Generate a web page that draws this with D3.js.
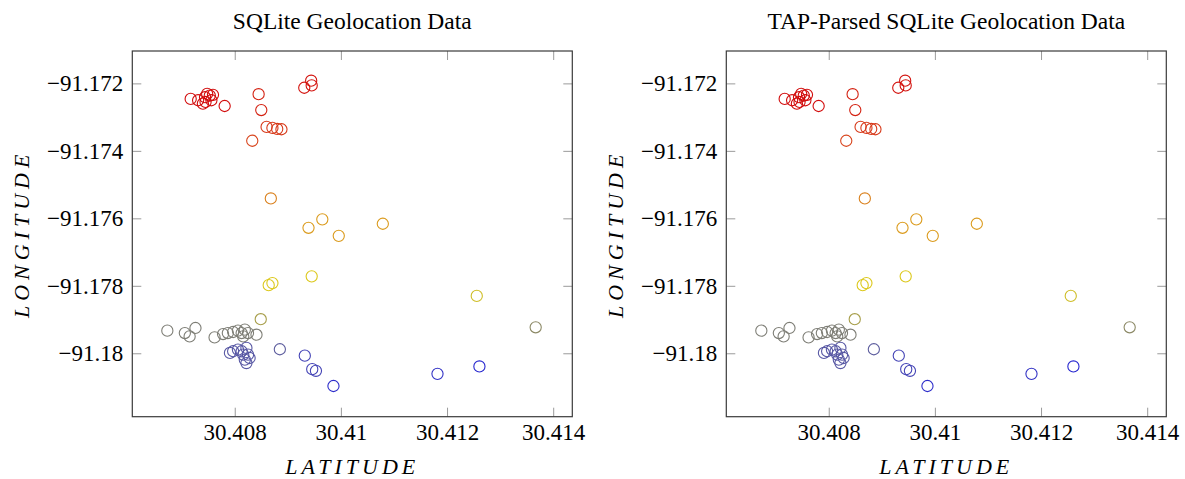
<!DOCTYPE html>
<html>
<head>
<meta charset="utf-8">
<title>SQLite Geolocation Data</title>
<script src="https://d3js.org/d3.v7.min.js"></script>
<style>
  body { margin: 0; background: #fff; }
  text { font-family: "Liberation Serif", "Times New Roman", serif; fill: #000; }
</style>
</head>
<body>
<svg width="1185" height="479"></svg>
<script>
// latitude (x) of each recorded point
var latitude = [
  30.40717, 30.40731, 30.40740, 30.40744, 30.40748, 30.40753, 30.40759, 30.40745, 30.40756, 30.40781,
  30.40845, 30.40850, 30.40860, 30.40871, 30.40880, 30.40888, 30.40833, 30.40931, 30.40944, 30.40945,
  30.40868, 30.40939, 30.40965, 30.40996, 30.41079,
  30.40864, 30.40871, 30.40945, 30.41256,
  30.40849, 30.41367,
  30.40673, 30.40706, 30.40715, 30.40726, 30.40762, 30.40778, 30.40787, 30.40797, 30.40806,
  30.40813, 30.40819, 30.40816, 30.40825, 30.40841,
  30.40791, 30.40797, 30.40806, 30.40813, 30.40822, 30.40816, 30.40825, 30.40819, 30.40822, 30.40828,
  30.40885, 30.40932, 30.40946, 30.40953, 30.40986, 30.41182, 30.41261
];
// longitude (y)
var longitude = [
  -91.17246, -91.17250, -91.17260, -91.17241, -91.17231, -91.17236, -91.17234, -91.17255, -91.17250, -91.17267,
  -91.17232, -91.17279, -91.17329, -91.17332, -91.17335, -91.17336, -91.17370, -91.17213, -91.17192, -91.17206,
  -91.17541, -91.17628, -91.17603, -91.17652, -91.17616,
  -91.17798, -91.17792, -91.17772, -91.17830,
  -91.17899, -91.17923,
  -91.17933, -91.17940, -91.17950, -91.17925, -91.17953, -91.17943, -91.17940, -91.17937, -91.17933,
  -91.17940, -91.17930, -91.17950, -91.17940, -91.17945,
  -91.17999, -91.17994, -91.17989, -91.17994, -91.17984, -91.18004, -91.18004, -91.18019, -91.18029, -91.18014,
  -91.17988, -91.18007, -91.18047, -91.18052, -91.18097, -91.18061, -91.18039
];
// point meta (0 = first reading, 1 = last), mapped through the colormap
var meta = [
  0, 0, 0, 0, 0, 0, 0, 0, 0, 0,
  0.06, 0.06, 0.12, 0.12, 0.12, 0.12, 0.15, 0.02, 0.02, 0.02,
  0.28, 0.34, 0.34, 0.34, 0.34,
  0.45, 0.45, 0.45, 0.47,
  0.53, 0.6,
  0.65, 0.65, 0.65, 0.65, 0.65, 0.65, 0.65, 0.65, 0.65,
  0.65, 0.65, 0.65, 0.65, 0.65,
  0.8, 0.8, 0.8, 0.8, 0.8, 0.8, 0.8, 0.8, 0.8, 0.8,
  0.78, 0.87, 0.87, 0.87, 0.95, 0.93, 0.97
];

var titles = ["SQLite Geolocation Data", "TAP-Parsed SQLite Geolocation Data"];
var xTicks = [30.408, 30.41, 30.412, 30.414];
var xTickLabels = ["30.408", "30.41", "30.412", "30.414"];
var yTicks = [-91.172, -91.174, -91.176, -91.178, -91.18];
var yTickLabels = ["\u221291.172", "\u221291.174", "\u221291.176", "\u221291.178", "\u221291.18"];
var xLabel = "LATITUDE", yLabel = "LONGITUDE";

var colorStops = [0, 0.15, 0.3, 0.45, 0.55, 0.65, 0.8, 1];
var colorRange = ["#d20c0c", "#d8441c", "#da8a1e", "#dcc81c", "#9a9456", "#7e7e76", "#5858a4", "#1e1ed6"];
var color = d3.scaleLinear().domain(colorStops).range(colorRange);

var svg = d3.select("svg");
var W = 440, H = 365.7;
var offsets = [132.3, 726.3];
var top0 = 51;
var serif = "'Liberation Serif', 'Times New Roman', serif";

var x = d3.scaleLinear().domain([30.40607, 30.41436]).range([0, W]);
var y = d3.scaleLinear().domain([-91.18188, -91.17104]).range([H, 0]);

var points = latitude.map(function(d, i) { return {lat: d, lon: longitude[i], m: meta[i]}; });

offsets.forEach(function(ox, k) {
  var g = svg.append("g").attr("transform", "translate(" + ox + "," + top0 + ")");

  // axes with inward ticks on all four sides
  var bottom = g.append("g").attr("transform", "translate(0," + H + ")")
    .call(d3.axisBottom(x).tickValues(xTicks).tickFormat(function(d, i) { return xTickLabels[i]; })
      .tickSizeInner(-9).tickSizeOuter(0).tickPadding(7));
  var left = g.append("g")
    .call(d3.axisLeft(y).tickValues(yTicks).tickFormat(function(d, i) { return yTickLabels[i]; })
      .tickSizeInner(-9).tickSizeOuter(0).tickPadding(9));
  var topAx = g.append("g")
    .call(d3.axisTop(x).tickValues(xTicks).tickFormat("").tickSizeInner(-9).tickSizeOuter(0));
  var right = g.append("g").attr("transform", "translate(" + W + ",0)")
    .call(d3.axisRight(y).tickValues(yTicks).tickFormat("").tickSizeInner(-9).tickSizeOuter(0));

  [bottom, left, topAx, right].forEach(function(a) {
    a.attr("font-family", serif).attr("font-size", 23);
    a.select(".domain").remove();
    a.selectAll("line").attr("stroke", "#9a9a9a").attr("stroke-width", 1);
    a.selectAll("text").attr("fill", "#000").style("font-family", serif).style("font-size", "23px");
  });

  // data
  g.selectAll("circle").data(points).enter().append("circle")
    .attr("cx", function(d) { return x(d.lat); })
    .attr("cy", function(d) { return y(d.lon); })
    .attr("r", 5.6)
    .attr("fill", "none")
    .attr("stroke", function(d) { return color(d.m); })
    .attr("stroke-width", 1.1);

  // frame
  g.append("rect").attr("width", W).attr("height", H)
    .attr("fill", "none").attr("stroke", "#3a3a3a").attr("stroke-width", 1.2);

  // title
  g.append("text").attr("x", W / 2).attr("y", -22)
    .attr("text-anchor", "middle").style("font-size", "23.5px")
    .text(titles[k]);

  // axis labels
  g.append("text").attr("x", W / 2).attr("y", H + 57)
    .attr("text-anchor", "middle").style("font-size", "22px").style("font-style", "italic")
    .style("letter-spacing", "4px")
    .text(xLabel);
  g.append("text").attr("transform", "translate(-103," + (H / 2) + ") rotate(-90)")
    .attr("text-anchor", "middle").style("font-size", "22px").style("font-style", "italic")
    .style("letter-spacing", "5px")
    .text(yLabel);
});
</script>
</body>
</html>
